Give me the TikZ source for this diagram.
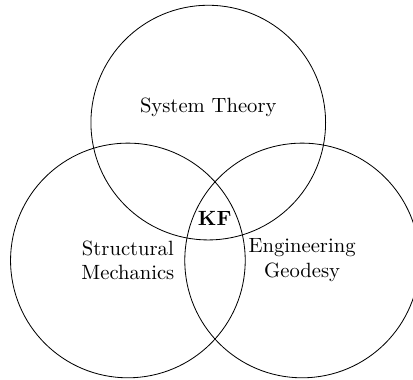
\documentclass[tikz,border=0pt]{standalone}
\usepackage{tikz}
\usetikzlibrary{positioning}

\begin{document}
\begin{tikzpicture}[field/.style={draw, circle, minimum size=4cm, inner sep=0pt}, every node/.style={align=center}]
  \useasboundingbox (-2.18,-2.03) rectangle (4.86,4.44);
  \node[field] (structmech) at (0,0) {};
  \node[field] (enggeo) at (2.97,0) {};
  \node[field] (systheory) at (1.37,2.35) {};

  \node (structmechlabel) at (structmech.center) {Structural\\Mechanics};
  \node (enggeolabel) at (enggeo.center) {Engineering\\Geodesy};
  \node (systheorylabel) at (1.37,2.61) {System Theory};
  \node (kf) at (1.48,0.72) {\textbf{KF}};
\end{tikzpicture}
\end{document}
